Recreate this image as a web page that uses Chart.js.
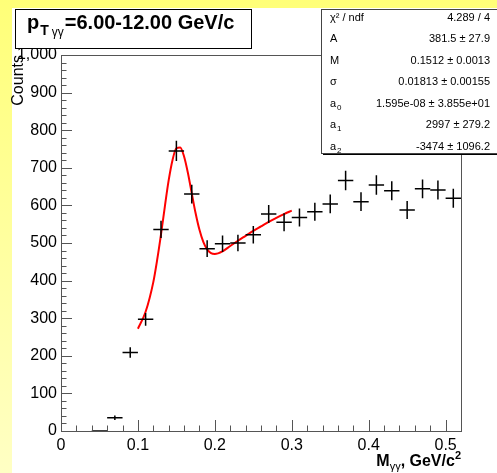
<!DOCTYPE html>
<html>
<head>
<meta charset="utf-8">
<title>M gamma gamma</title>
<script src="https://cdn.jsdelivr.net/npm/chart.js@4/dist/chart.umd.min.js"></script>
<style>
  html, body { margin: 0; padding: 0; }
  body {
    width: 497px;
    height: 473px;
    overflow: hidden;
    background: linear-gradient(#ffff78, #ffffc4);
  }
  #wrap { position: relative; width: 497px; height: 473px; }
</style>
</head>
<body>
<div id="wrap"><canvas id="massChart" width="497" height="473"></canvas></div>
<script>
// Data (bin centres, counts, errors)
const massBins = [0.05, 0.07, 0.09, 0.11, 0.13, 0.15, 0.17, 0.19, 0.21, 0.23, 0.25, 0.27,
                  0.29, 0.31, 0.33, 0.35, 0.37, 0.39, 0.41, 0.43, 0.45, 0.47, 0.49, 0.51];
const counts = [0, 35, 209, 297, 536, 745, 630, 485, 498, 500, 522, 577,
                555, 568, 583, 604, 666, 610, 654, 639, 588, 644, 641, 619];
const countErrors = [0, 6, 14, 17, 23, 27, 25, 22, 22, 22, 23, 24,
                     24, 24, 24, 25, 26, 25, 26, 25, 24, 25, 25, 25];
const binHalfWidth = 0.01;

// Red fit curve
const fitMass = [0.100, 0.110, 0.120, 0.125, 0.130, 0.135, 0.140, 0.145, 0.150, 0.155,
                 0.160, 0.165, 0.170, 0.175, 0.180, 0.185, 0.190, 0.195, 0.200, 0.210,
                 0.220, 0.230, 0.240, 0.250, 0.260, 0.270, 0.280, 0.290, 0.300];
const fitCounts = [272, 317, 396, 455, 523, 597, 667, 721, 752, 754,
                   730, 686, 632, 579, 535, 503, 483, 473, 471, 478,
                   492, 506, 519, 532, 544, 556, 567, 577, 586];

// Axis ticks
const xTickValues = [0, 0.1, 0.2, 0.3, 0.4, 0.5];
const yTickValues = [0, 100, 200, 300, 400, 500, 600, 700, 800, 900, 1000];

// Fit statistics box
const fitLabels = [['χ² / ndf', ''], ['A', ''], ['M', ''], ['σ', ''], ['a', '0'], ['a', '1'], ['a', '2']];
const fitValues = ['4.289 / 4', '381.5 ± 27.9', '0.1512 ± 0.0013', '0.01813 ± 0.00155',
                   '1.595e-08 ± 3.855e+01', '2997 ± 279.2', '-3474 ± 1096.2'];

const FONT = '"Liberation Sans", Arial, Helvetica, sans-serif';

const rootStyle = {
  id: 'rootStyle',
  beforeDraw(chart) {
    const ctx = chart.ctx;
    ctx.save();
    ctx.fillStyle = '#ffffff';
    ctx.fillRect(12, 8, chart.width - 12, chart.height - 8);
    ctx.restore();
  },
  afterDatasetsDraw(chart) {
    // error crosses for the histogram points
    const ctx = chart.ctx;
    const xs = chart.scales.x, ys = chart.scales.y;
    const meta = chart.getDatasetMeta(1);
    ctx.save();
    ctx.strokeStyle = '#000';
    ctx.lineWidth = 1.5;
    meta.data.forEach((pt, i) => {
      const x0 = xs.getPixelForValue(massBins[i] - binHalfWidth);
      const x1 = xs.getPixelForValue(massBins[i] + binHalfWidth);
      const yTop = ys.getPixelForValue(counts[i] + countErrors[i]);
      const yBot = ys.getPixelForValue(counts[i] - countErrors[i]);
      ctx.beginPath();
      ctx.moveTo(x0, pt.y);
      ctx.lineTo(x1, pt.y);
      if (countErrors[i] > 0) {
        ctx.moveTo(pt.x, yTop);
        ctx.lineTo(pt.x, yBot);
      }
      ctx.stroke();
    });
    ctx.restore();
  },
  afterDraw(chart) {
    const ctx = chart.ctx;
    const a = chart.chartArea;
    const xs = chart.scales.x, ys = chart.scales.y;
    ctx.save();

    // frame
    ctx.strokeStyle = '#555';
    ctx.lineWidth = 1;
    ctx.strokeRect(Math.round(a.left) + 0.5, Math.round(a.top) + 0.5,
                   Math.round(a.right - a.left), Math.round(a.bottom - a.top));

    // inner ticks
    ctx.beginPath();
    for (let k = 0; k <= 26; k++) {
      const px = Math.round(xs.getPixelForValue(k * 0.02)) + 0.5;
      const len = k % 5 === 0 ? 11 : 5.5;
      ctx.moveTo(px, a.bottom);
      ctx.lineTo(px, a.bottom - len);
    }
    for (let k = 0; k <= 50; k++) {
      const py = Math.round(ys.getPixelForValue(k * 20)) + 0.5;
      const len = k % 5 === 0 ? 11 : 5.5;
      ctx.moveTo(a.left, py);
      ctx.lineTo(a.left + len, py);
    }
    ctx.stroke();

    // y title
    ctx.fillStyle = '#000';
    ctx.save();
    ctx.translate(23, a.top);
    ctx.rotate(-Math.PI / 2);
    ctx.font = '16px ' + FONT;
    ctx.textAlign = 'right';
    ctx.textBaseline = 'alphabetic';
    ctx.fillText('Counts', 0, 0);
    ctx.restore();

    // x title: M_γγ, GeV/c²
    ctx.textBaseline = 'alphabetic';
    ctx.textAlign = 'left';
    const big = 'bold 16px ' + FONT, small = '11px ' + FONT, smallB = 'bold 11px ' + FONT;
    ctx.font = big; const wM = ctx.measureText('M').width;
    ctx.font = small; const wSub = ctx.measureText('γγ').width;
    ctx.font = big; const wG = ctx.measureText(', GeV/c').width;
    ctx.font = smallB; const wSup = ctx.measureText('2').width;
    let tx = a.right - (wM + wSub + wG + wSup);
    const tb = 466;
    ctx.font = big; ctx.fillText('M', tx, tb); tx += wM;
    ctx.font = small; ctx.fillText('γγ', tx, tb + 4); tx += wSub;
    ctx.font = big; ctx.fillText(', GeV/c', tx, tb); tx += wG;
    ctx.font = smallB; ctx.fillText('2', tx, tb - 7);

    // title box
    ctx.fillStyle = '#fff';
    ctx.fillRect(15, 9, 236, 39);
    ctx.strokeStyle = '#000';
    ctx.lineWidth = 1;
    ctx.strokeRect(15.5, 9.5, 236, 39);
    ctx.fillStyle = '#000';
    let hx = 27;
    ctx.font = 'bold 20px ' + FONT; ctx.fillText('p', hx, 29); hx += ctx.measureText('p').width + 1;
    ctx.font = 'bold 14px ' + FONT; ctx.fillText('T', hx, 35); hx += ctx.measureText('T').width + 3;
    ctx.font = '12px ' + FONT; ctx.fillText('γγ', hx, 36); hx += ctx.measureText('γγ').width;
    ctx.font = 'bold 20px ' + FONT; ctx.fillText('=6.00-12.00 GeV/c', hx + 1, 29);

    // fit statistics box
    const bx = 321, by = 9, bw = chart.width - bx + 2, bh = 144;
    ctx.fillStyle = '#000';
    ctx.fillRect(bx + 2, by + bh, bw, 2);
    ctx.fillStyle = '#fff';
    ctx.fillRect(bx, by, bw, bh);
    ctx.strokeStyle = '#444';
    ctx.strokeRect(bx + 0.5, by + 0.5, bw, bh);
    ctx.fillStyle = '#000';
    ctx.textBaseline = 'middle';
    fitLabels.forEach(([lab, sub], i) => {
      const ry = by + 8.5 + i * 21.5;
      ctx.textAlign = 'left';
      ctx.font = '11px ' + FONT;
      ctx.fillText(lab, 330, ry);
      if (sub) {
        const w = ctx.measureText(lab).width;
        ctx.font = '8px ' + FONT;
        ctx.fillText(sub, 330 + w + 1, ry + 4);
      }
      ctx.textAlign = 'right';
      ctx.font = '11px ' + FONT;
      ctx.fillText(fitValues[i], 490, ry);
    });

    ctx.restore();
  }
};

new Chart(document.getElementById('massChart'), {
  type: 'scatter',
  data: {
    datasets: [
      {
        type: 'line',
        label: 'fit',
        data: fitMass.map((m, i) => ({ x: m, y: fitCounts[i] })),
        borderColor: '#ff0000',
        borderWidth: 2,
        pointRadius: 0,
        cubicInterpolationMode: 'monotone',
        fill: false
      },
      {
        label: 'counts',
        data: massBins.map((m, i) => ({ x: m, y: counts[i] })),
        pointRadius: 0,
        showLine: false
      }
    ]
  },
  options: {
    responsive: false,
    devicePixelRatio: 1,
    animation: false,
    layout: { padding: { left: 0, top: 55, right: 36, bottom: 0 } },
    plugins: { legend: { display: false }, tooltip: { enabled: false } },
    scales: {
      x: {
        type: 'linear',
        min: 0,
        max: 0.52,
        grid: { display: false, drawTicks: false },
        border: { display: false },
        afterBuildTicks: s => { s.ticks = xTickValues.map(v => ({ value: v })); },
        afterFit: s => { s.height = 42; },
        ticks: {
          padding: 5,
          maxRotation: 0,
          color: '#000',
          font: { family: FONT, size: 16 },
          callback: v => String(Math.round(v * 10) / 10)
        }
      },
      y: {
        min: 0,
        max: 1000,
        grid: { display: false, drawTicks: false },
        border: { display: false },
        afterBuildTicks: s => { s.ticks = yTickValues.map(v => ({ value: v })); },
        afterFit: s => { s.width = 61; },
        ticks: {
          padding: 4,
          color: '#000',
          font: { family: FONT, size: 16 }
        }
      }
    }
  },
  plugins: [rootStyle]
});
</script>
</body>
</html>
